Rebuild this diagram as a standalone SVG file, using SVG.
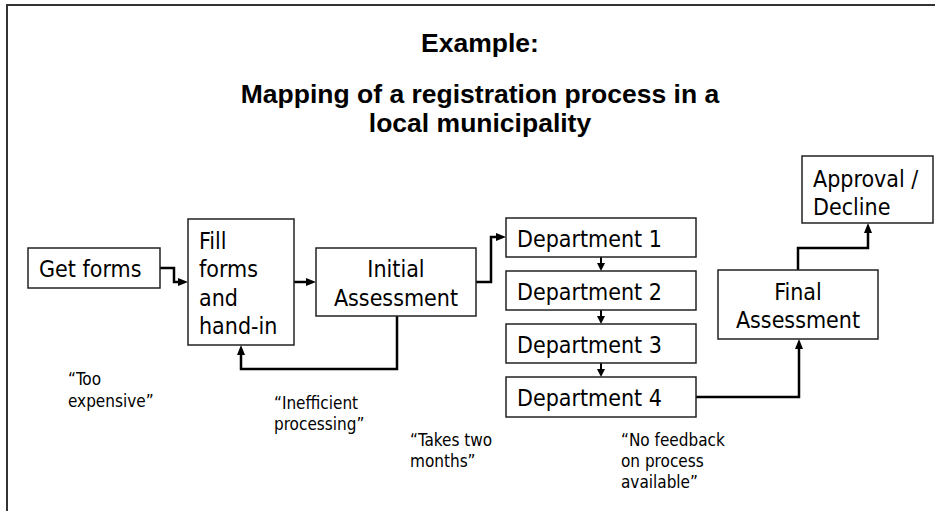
<svg xmlns="http://www.w3.org/2000/svg" width="935" height="511" viewBox="0 0 935 511">
  <style>
    .frame { fill: none; stroke: #333; stroke-width: 2; }
    .box { fill: #fff; stroke: #222; stroke-width: 1.5; }
    .lbl { font-family: 'DejaVu Sans Condensed', 'DejaVu Sans', sans-serif; font-stretch: condensed; font-size: 23px; fill: #000; }
    .mid { text-anchor: middle; }
    .note { font-family: 'DejaVu Sans Condensed', 'DejaVu Sans', sans-serif; font-stretch: condensed; font-size: 17px; fill: #000; }
    .title { font-family: 'Liberation Sans', Arial, sans-serif; font-weight: bold; font-size: 26.5px; fill: #000; text-anchor: middle; }
    .link { fill: none; stroke: #000; stroke-width: 2.5; stroke-linejoin: miter; }
    .link-s { fill: none; stroke: #000; stroke-width: 2; }
  </style>
  <defs>
    <marker id="arrow" viewBox="0 0 10 8" refX="2" refY="4" markerWidth="10" markerHeight="8" markerUnits="userSpaceOnUse" orient="auto">
      <path d="M0,0 L10,4 L0,8 z" fill="#000"/>
    </marker>
    <marker id="arrow-s" viewBox="0 0 8 8" refX="1" refY="4" markerWidth="8" markerHeight="8" markerUnits="userSpaceOnUse" orient="auto">
      <path d="M0,0 L8,4 L0,8 z" fill="#000"/>
    </marker>
  </defs>

  <!-- page frame -->
  <path class="frame" d="M7,511 V5 H935"/>

  <!-- heading -->
  <g id="heading">
    <text class="title" x="480" y="52">Example:</text>
    <text class="title" x="480" y="103">Mapping of a registration process in a</text>
    <text class="title" x="480" y="132">local municipality</text>
  </g>

  <!-- connectors -->
  <g id="connectors">
    <polyline class="link" points="160,268 174,268 174,282 180,282" marker-end="url(#arrow)"/>
    <polyline class="link" points="294,282 308,282" marker-end="url(#arrow)"/>
    <polyline class="link" points="397,316 397,369 241,369 241,353" marker-end="url(#arrow)"/>
    <polyline class="link" points="476,282 491,282 491,237 498,237" marker-end="url(#arrow)"/>
    <polyline class="link-s" points="601,257 601,264" marker-end="url(#arrow-s)"/>
    <polyline class="link-s" points="601,310 601,317" marker-end="url(#arrow-s)"/>
    <polyline class="link-s" points="601,363 601,370" marker-end="url(#arrow-s)"/>
    <polyline class="link" points="696,397 799,397 799,347" marker-end="url(#arrow)"/>
    <polyline class="link" points="798,270 798,248 868,248 868,231" marker-end="url(#arrow)"/>
  </g>

  <!-- process steps -->
  <g id="get-forms">
    <rect class="box" x="28" y="248" width="132" height="40"/>
    <text class="lbl" x="39" y="277">Get forms</text>
  </g>
  <g id="fill-forms">
    <rect class="box" x="188" y="219" width="106" height="126"/>
    <text class="lbl" x="199" y="249">Fill</text>
    <text class="lbl" x="199" y="277">forms</text>
    <text class="lbl" x="199" y="306">and</text>
    <text class="lbl" x="199" y="334">hand-in</text>
  </g>
  <g id="initial-assessment">
    <rect class="box" x="316" y="248" width="160" height="68"/>
    <text class="lbl mid" x="396" y="277">Initial</text>
    <text class="lbl mid" x="396" y="306">Assessment</text>
  </g>
  <g id="department-1">
    <rect class="box" x="506" y="218" width="190" height="39"/>
    <text class="lbl" x="517" y="247">Department 1</text>
  </g>
  <g id="department-2">
    <rect class="box" x="506" y="271" width="190" height="39"/>
    <text class="lbl" x="517" y="300">Department 2</text>
  </g>
  <g id="department-3">
    <rect class="box" x="506" y="324" width="190" height="39"/>
    <text class="lbl" x="517" y="353">Department 3</text>
  </g>
  <g id="department-4">
    <rect class="box" x="506" y="377" width="190" height="40"/>
    <text class="lbl" x="517" y="406">Department 4</text>
  </g>
  <g id="final-assessment">
    <rect class="box" x="718" y="270" width="160" height="69"/>
    <text class="lbl mid" x="798" y="300">Final</text>
    <text class="lbl mid" x="798" y="328">Assessment</text>
  </g>
  <g id="approval-decline">
    <rect class="box" x="802" y="156" width="131" height="67"/>
    <text class="lbl" x="813" y="187">Approval /</text>
    <text class="lbl" x="813" y="215">Decline</text>
  </g>

  <!-- remarks -->
  <g id="remarks">
    <text class="note" x="68" y="385">“Too</text>
    <text class="note" x="68" y="407">expensive”</text>
    <text class="note" x="274" y="409">“Inefficient</text>
    <text class="note" x="274" y="430">processing”</text>
    <text class="note" x="410" y="446">“Takes two</text>
    <text class="note" x="410" y="467">months”</text>
    <text class="note" x="621" y="446">“No feedback</text>
    <text class="note" x="621" y="467">on process</text>
    <text class="note" x="621" y="488">available”</text>
  </g>
</svg>
